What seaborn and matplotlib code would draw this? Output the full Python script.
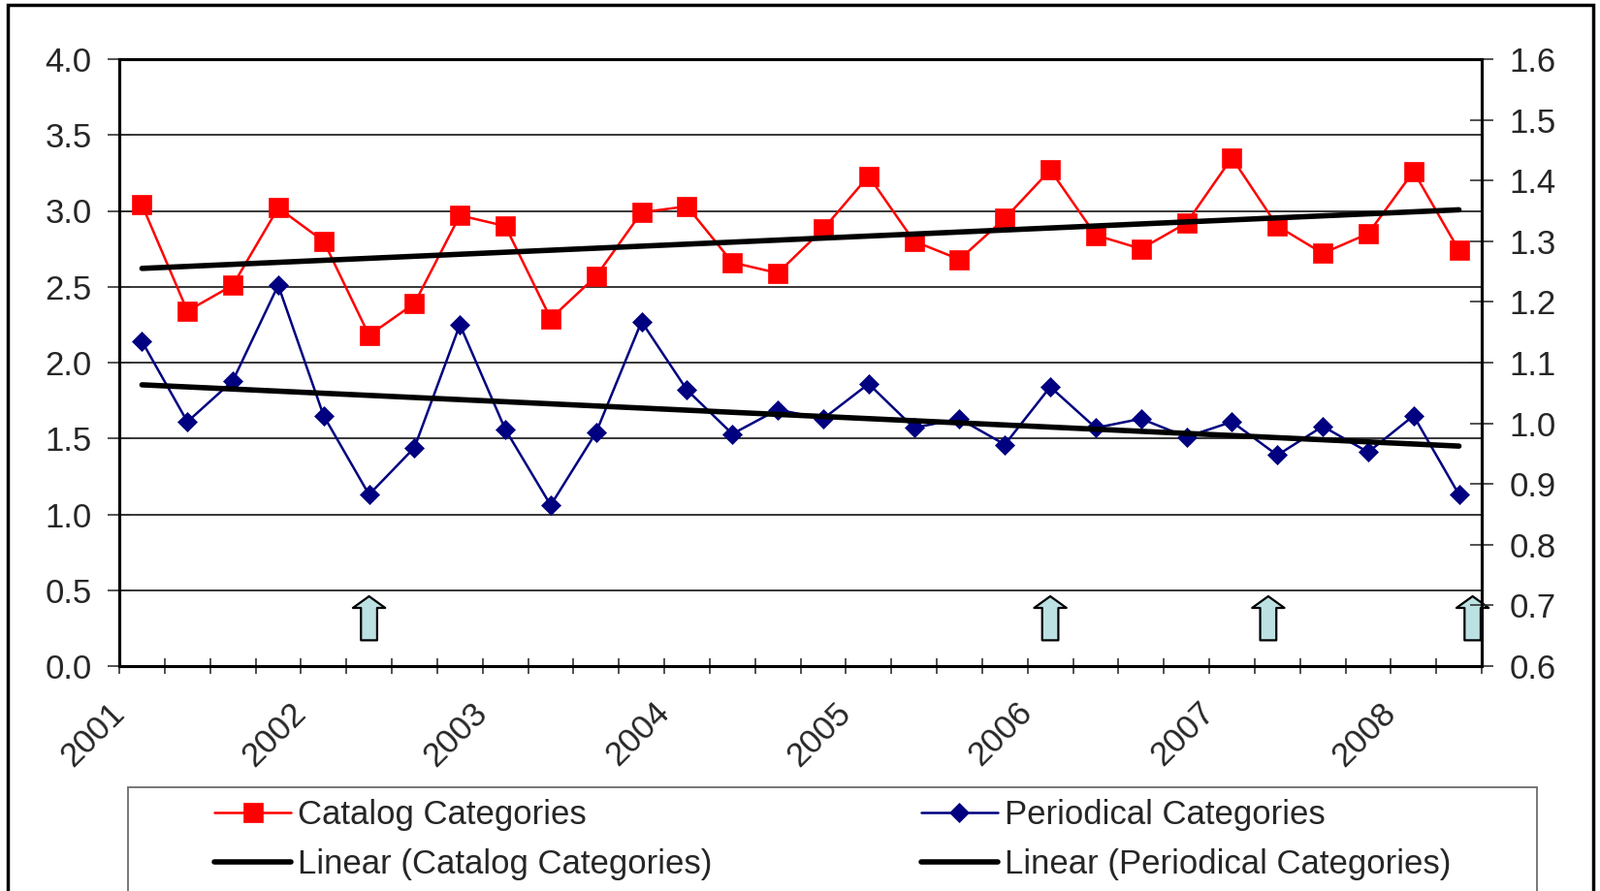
import numpy as np
import pandas as pd
import matplotlib.pyplot as plt
from matplotlib.patches import Rectangle
import seaborn as sns

# quarterly values
years = ['2001', '2002', '2003', '2004', '2005', '2006', '2007', '2008']
catalog = [3.04, 2.34, 2.51, 3.02, 2.80, 2.18, 2.39, 2.97, 2.90, 2.29,
           2.57, 2.99, 3.03, 2.66, 2.59, 2.88, 3.23, 2.80, 2.68, 2.95,
           3.27, 2.84, 2.75, 2.92, 3.35, 2.90, 2.72, 2.85, 3.26, 2.74]
periodical = [2.14, 1.61, 1.88, 2.51, 1.65, 1.13, 1.44, 2.25, 1.56, 1.06,
              1.54, 2.27, 1.82, 1.53, 1.69, 1.63, 1.86, 1.57, 1.63, 1.46,
              1.84, 1.57, 1.63, 1.51, 1.61, 1.39, 1.58, 1.41, 1.65, 1.13]
arrow_x = [5, 20, 24.8, 29.3]
arrow_from, arrow_to = 0.17, 0.46

df = pd.DataFrame({'t': np.arange(len(catalog)),
                   'catalog': catalog,
                   'periodical': periodical})

sns.set_theme(style='white')
plt.rcParams['font.family'] = ['Liberation Sans', 'DejaVu Sans']
FS = 25

W, H = 1650, 919
fig = plt.figure(figsize=(W / 100, H / 100), dpi=100)
ax = fig.add_axes([123 / W, 1 - 687 / H, (1528 - 123) / W, (687 - 61) / H])

sns.lineplot(data=df, x='t', y='catalog', ax=ax, color='#FF0000', linewidth=1.8,
             marker='s', markersize=14, markeredgecolor='#FF0000', markeredgewidth=0.5,
             label='Catalog Categories')
sns.regplot(data=df, x='t', y='catalog', ax=ax, scatter=False, ci=None, color='black',
            line_kws={'linewidth': 4, 'solid_capstyle': 'round'},
            label='Linear (Catalog Categories)')
sns.lineplot(data=df, x='t', y='periodical', ax=ax, color='#000080', linewidth=1.8,
             marker='D', markersize=10, markeredgecolor='#000080', markeredgewidth=0.5,
             label='Periodical Categories')
sns.regplot(data=df, x='t', y='periodical', ax=ax, scatter=False, ci=None, color='black',
            line_kws={'linewidth': 4, 'solid_capstyle': 'round'},
            label='Linear (Periodical Categories)')
if ax.get_legend() is not None:
    ax.get_legend().remove()

for x in arrow_x:
    ax.annotate('', xy=(x, arrow_to), xytext=(x, arrow_from),
                arrowprops=dict(arrowstyle='simple,head_length=0.36,head_width=1.0,tail_width=0.5',
                                mutation_scale=24, fc='#BBE1E3', ec='black', lw=1.6,
                                shrinkA=0, shrinkB=0))

# axes
ax.set_xlim(-0.5, len(catalog) - 0.5)
ax.set_ylim(0, 4)
ax.set_yticks(np.arange(0, 4.01, 0.5))
ax.set_yticklabels([f'{v:.1f}' for v in np.arange(0, 4.01, 0.5)], fontsize=FS)
bounds = np.arange(-0.5, len(catalog), 1)
xlabels = [''] * len(bounds)
for k, y in enumerate(years):
    xlabels[4 * k] = y
ax.set_xticks(bounds)
ax.set_xticklabels(xlabels, fontsize=FS, rotation=45, ha='right', va='center',
                   rotation_mode='anchor')
ax.set_xlabel('')
ax.set_ylabel('')
ax.yaxis.grid(True, color='black', linewidth=1.1)
ax.xaxis.grid(False)
ax.tick_params(axis='x', bottom=True, direction='inout', length=12, width=1.2,
               color='#333333', pad=25)
ax.tick_params(axis='y', left=True, direction='inout', length=17, width=1.2,
               color='#333333', pad=12)

ax2 = ax.twinx()
ax2.set_ylim(0.6, 1.6)
rt = np.arange(0.6, 1.601, 0.1)
ax2.set_yticks(rt)
ax2.set_yticklabels([f'{v:.1f}' for v in rt], fontsize=FS)
ax2.grid(False)
ax2.tick_params(axis='y', right=True, direction='inout', length=17, width=1.2,
                color='#333333', pad=12)

for a in (ax, ax2):
    for s in a.spines.values():
        s.set_color('black')
        s.set_linewidth(2.2)

# legend
handles, labels = ax.get_legend_handles_labels()
fig.legend(handles, labels, loc='upper left', bbox_to_anchor=(221 / W, 1 - 824 / H),
           ncol=2, frameon=False, fontsize=FS, handlelength=2.28, handletextpad=0.2,
           columnspacing=6.2, labelspacing=0.53, borderpad=0, borderaxespad=0)
fig.patches.append(Rectangle((132 / W, -0.05), (1585 - 132) / W, 0.05 + 1 - 812 / H,
                             transform=fig.transFigure, fill=False,
                             edgecolor='#777777', linewidth=1.4))
fig.patches.append(Rectangle((8 / W, -0.05), (1643 - 8) / W, 0.05 + 1 - 5 / H,
                             transform=fig.transFigure, fill=False,
                             edgecolor='black', linewidth=2.5))

fig.savefig('out.png', dpi=100)
